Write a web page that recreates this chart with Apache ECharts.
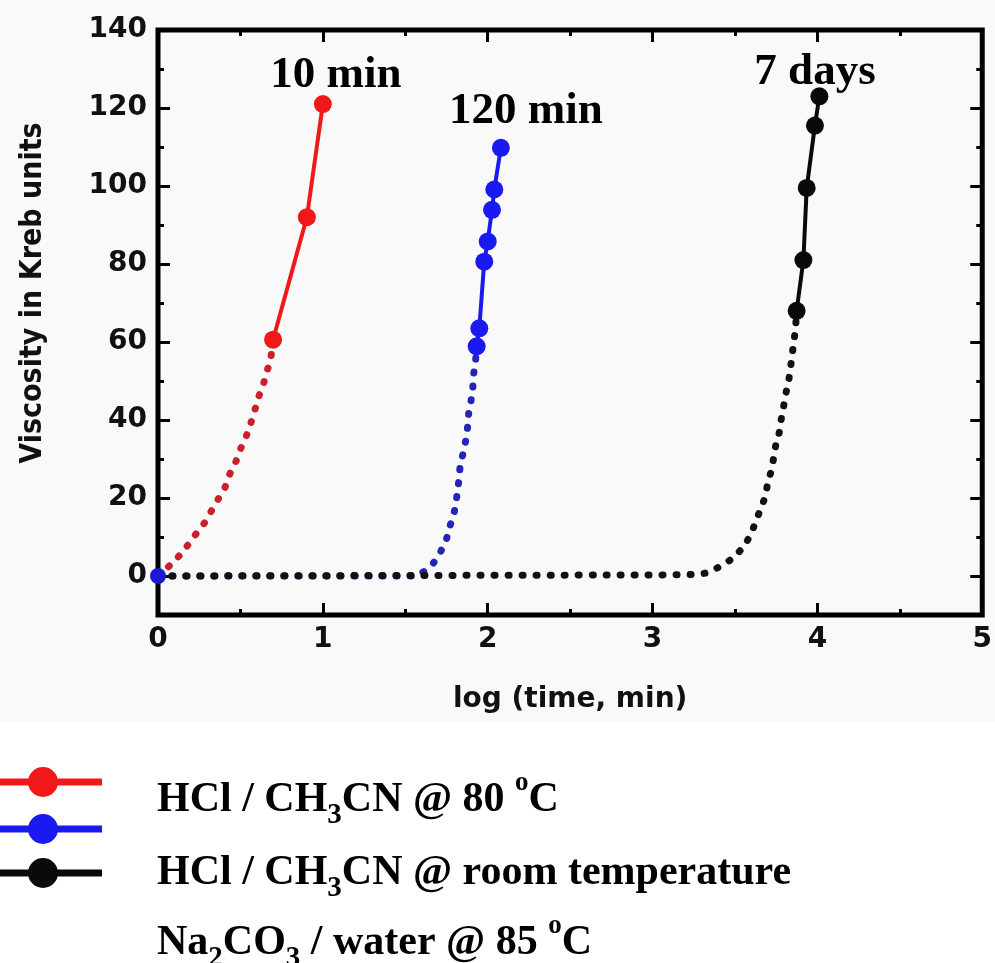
<!DOCTYPE html>
<html>
<head>
<meta charset="utf-8">
<script src="https://cdn.jsdelivr.net/npm/echarts@6/dist/echarts.min.js"></script>
<style>
  html, body { margin: 0; padding: 0; background: #fff; }
  #chart { width: 995px; height: 963px; }
</style>
</head>
<body>
<div id="chart"></div>
<script>
// measured points (log time, viscosity)
var redPts = [[0.698, 60.6], [0.903, 92], [1.0, 121]];
var bluePts = [[1.933, 58.9], [1.949, 63.5], [1.979, 80.6], [2.0, 85.8], [2.026, 93.9], [2.040, 99.1], [2.080, 109.8]];
var blackPts = [[3.874, 68], [3.915, 81], [3.935, 99.5], [3.985, 115.5], [4.012, 123]];

// dotted fit curves
var redFit = [[0, 0], [0.089, 3.4], [0.163, 6.9], [0.214, 9.9], [0.274, 13.1], [0.321, 16.5], [0.365, 19.7],
  [0.406, 22.7], [0.436, 26.2], [0.472, 29.3], [0.502, 32.7], [0.537, 36.0], [0.563, 39.2], [0.587, 42.5],
  [0.607, 45.5], [0.637, 48.9], [0.658, 52.1], [0.682, 55.5], [0.698, 60.6]];
var blueFit = [[0, 0], [1.55, 0], [1.586, 0.4], [1.660, 2.8], [1.711, 6.0], [1.748, 9.3], [1.768, 12.4],
  [1.794, 15.9], [1.808, 19.0], [1.818, 22.3], [1.828, 25.5], [1.834, 28.6], [1.854, 32.0], [1.869, 35.4],
  [1.879, 38.6], [1.885, 41.8], [1.899, 45.0], [1.909, 48.0], [1.913, 51.2], [1.925, 54.7], [1.933, 58.9]];
var blackFit = [[0, 0], [3.16, 0.3], [3.241, 0.4], [3.325, 0.8], [3.402, 2.3], [3.487, 4.6], [3.554, 7.7],
  [3.600, 11.1], [3.628, 14.3], [3.660, 17.6], [3.684, 20.6], [3.700, 24.0], [3.721, 27.2], [3.735, 30.4],
  [3.749, 33.9], [3.769, 36.9], [3.781, 40.3], [3.795, 43.5], [3.809, 46.8], [3.826, 50.2], [3.836, 53.2],
  [3.846, 56.4], [3.856, 59.8], [3.866, 63.0], [3.874, 68]];
var blueOrigin = [[0, 0]];

var yMajorTicks = [0, 20, 40, 60, 80, 100, 120, 140];
var yMinorTicks = [-10, 10, 30, 50, 70, 90, 110, 130];

var labelFont = { fontFamily: 'DejaVu Sans', fontWeight: 'bold', fontSize: 28, color: '#111' };
var tickStyle = { color: '#000', width: 3 };

function yAx(pos, ticks, len, labels) {
  return {
    type: 'value', position: pos, min: -10, max: 140, interval: 10, offset: 0,
    axisLine: { show: false, onZero: false },
    splitLine: { show: false },
    axisTick: { show: true, inside: true, length: len, lineStyle: tickStyle, customValues: ticks },
    axisLabel: labels ? Object.assign({ show: true, margin: 11, customValues: yMajorTicks }, labelFont) : { show: false }
  };
}
function xAx(pos, labels) {
  return {
    type: 'value', position: pos, min: 0, max: 5, interval: 1,
    axisLine: { show: false, onZero: false },
    splitLine: { show: false },
    axisTick: { show: true, inside: true, length: 12, lineStyle: tickStyle },
    minorTick: { show: true, splitNumber: 2, length: 6, lineStyle: tickStyle },
    axisLabel: labels ? Object.assign({ show: true, margin: 11 }, labelFont) : { show: false },
    name: labels ? 'log (time, min)' : '',
    nameLocation: 'middle',
    nameGap: 71,
    nameTextStyle: { fontFamily: 'DejaVu Sans', fontWeight: 'bold', fontSize: 28, color: '#111' }
  };
}

function fitSeries(data, color) {
  return {
    type: 'line', data: data, showSymbol: false, symbol: 'none', smooth: 0.3, silent: true,
    lineStyle: { color: color, width: 7, type: [1, 13], cap: 'round' }
  };
}
function ptSeries(data, color) {
  return {
    type: 'line', data: data, symbol: 'circle', symbolSize: 18, silent: true,
    itemStyle: { color: color },
    lineStyle: { color: color, width: 4 }
  };
}

var tFont = 'bold 45px "Liberation Serif"';
var lgRich = {
  m: { fontFamily: 'Liberation Serif', fontWeight: 'bold', fontSize: 42, lineHeight: 60, verticalAlign: 'middle', fill: '#000' },
  sub: { fontFamily: 'Liberation Serif', fontWeight: 'bold', fontSize: 29, lineHeight: 34, verticalAlign: 'bottom', fill: '#000' },
  sup: { fontFamily: 'Liberation Serif', fontWeight: 'bold', fontSize: 27, lineHeight: 38, verticalAlign: 'top', fill: '#000' }
};
function lgText(txt, top) {
  return { type: 'text', left: 157, top: top, style: { text: txt, rich: lgRich, fill: '#000' } };
}
function lgIcon(y, color) {
  return {
    type: 'group', children: [
      { type: 'line', shape: { x1: 0, y1: y, x2: 102, y2: y }, style: { stroke: color, lineWidth: 7 } },
      { type: 'circle', shape: { cx: 43, cy: y, r: 15 }, style: { fill: color } }
    ]
  };
}

var option = {
  backgroundColor: '#fff',
  animation: false,
  grid: { left: 158, right: 12, top: 30, bottom: 348, show: true, borderColor: '#000', borderWidth: 5, backgroundColor: 'transparent' },
  xAxis: [xAx('bottom', true), xAx('top', false)],
  yAxis: [yAx('left', yMajorTicks, 12, true), yAx('left', yMinorTicks, 6, false),
    yAx('right', yMajorTicks, 12, false), yAx('right', yMinorTicks, 6, false)],
  series: [
    fitSeries(redFit, '#c8202c'),
    ptSeries(redPts, '#f01818'),
    fitSeries(blueFit, '#2424b8'),
    ptSeries(bluePts, '#1a1af0'),
    fitSeries(blackFit, '#111'),
    ptSeries(blackPts, '#0a0a0a'),
    { type: 'scatter', data: blueOrigin, symbol: 'circle', symbolSize: 16, z: 5, itemStyle: { color: '#1a1ad0', opacity: 1 }, silent: true }
  ],
  graphic: [
    { type: 'rect', z: -10, shape: { x: 0, y: 0, width: 995, height: 722 }, style: { fill: '#f9f9f9' } },
    { type: 'text', x: 33, y: 293, rotation: Math.PI / 2, scaleY: 1.1,
      style: { text: 'Viscosity in Kreb units', font: 'bold 27px "DejaVu Sans"', fill: '#111', align: 'center', verticalAlign: 'middle' } },
    { type: 'text', x: 336, y: 75, style: { text: '10 min', font: tFont, fill: '#000', align: 'center', verticalAlign: 'middle' } },
    { type: 'text', x: 526, y: 111, style: { text: '120 min', font: tFont, fill: '#000', align: 'center', verticalAlign: 'middle' } },
    { type: 'text', x: 815, y: 72, style: { text: '7 days', font: tFont, fill: '#000', align: 'center', verticalAlign: 'middle' } },
    lgIcon(782, '#f01818'),
    lgIcon(829, '#1a1af0'),
    lgIcon(873, '#0a0a0a'),
    lgText('{m|HCl / CH}{sub|3}{m|CN @ 80 }{sup|o}{m|C}', 770),
    lgText('{m|HCl / CH}{sub|3}{m|CN @ room temperature}', 852),
    lgText('{m|Na}{sub|2}{m|CO}{sub|3}{m| / water @ 85 }{sup|o}{m|C}', 913)
  ]
};

var chart = echarts.init(document.getElementById('chart'));
chart.setOption(option);
</script>
</body>
</html>
